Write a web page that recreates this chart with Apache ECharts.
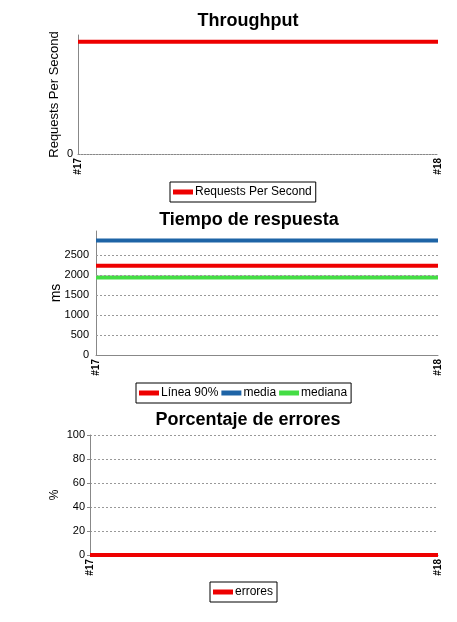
<!DOCTYPE html>
<html>
<head>
<meta charset="utf-8">
<script src="https://cdn.jsdelivr.net/npm/echarts@6/dist/echarts.min.js"></script>
<style>
html,body{margin:0;padding:0;background:#fff;}
#c{width:457px;height:622px;}
</style>
</head>
<body>
<div id="c"></div>
<script>
// ---- data ----
const categories = ['#17', '#18'];
const throughputValues = [1, 1];
const throughputMax = 1.06;
const p90Values = [2230, 2230];
const meanValues = [2860, 2860];
const medianValues = [1940, 1940];
const responseMax = 3100;
const responseTicks = [0, 500, 1000, 1500, 2000, 2500];
const errorValues = [0, 0];
const errorTicks = [0, 20, 40, 60, 80, 100];

const titles = ['Throughput', 'Tiempo de respuesta', 'Porcentaje de errores'];
const yNames = ['Requests Per Second', 'ms', '%'];

const RED = '#ee0000', BLUE = '#1e64a6', GREEN = '#44dd44';
const FONT = 'Liberation Sans, Arial, sans-serif';
const GRIDLINE = { color: '#999', type: [2, 2], width: 1 };

function xAxis(gi) {
  return {
    type: 'category', gridIndex: gi, data: categories, boundaryGap: false,
    axisLine: { show: true, lineStyle: { color: '#888', width: 1, type: gi === 0 ? [2, 1] : 'solid' } },
    axisTick: { show: false },
    axisLabel: { rotate: 90, fontSize: 10, fontFamily: FONT, color: '#000', margin: 4, fontWeight: 'bold' }
  };
}
function baseY(gi, name, gap, nameSize) {
  return {
    type: 'value', gridIndex: gi, name: name, nameLocation: 'middle', nameGap: gap,
    nameMoveOverlap: false,
    nameTextStyle: { fontSize: nameSize, fontFamily: FONT, color: '#000' },
    axisLine: { show: true, lineStyle: { color: '#888', width: 1 } },
    axisTick: { show: true, length: 3, lineStyle: { color: '#888' } },
    axisLabel: { fontSize: 11, fontFamily: FONT, color: '#000', margin: 5, formatter: v => String(v) },
    splitLine: { show: true, showMaxLine: false, lineStyle: GRIDLINE }
  };
}

const y0 = baseY(0, yNames[0], 17, 13);
y0.min = 0; y0.max = throughputMax;
y0.axisLabel.formatter = v => (v === 0 ? '0' : '');
y0.axisTick.show = false;
y0.splitLine.show = false;

const y1 = baseY(1, yNames[1], 33, 14);
y1.min = 0; y1.max = responseMax; y1.interval = responseTicks[1] - responseTicks[0];
y1.axisLabel.formatter = v => (responseTicks.indexOf(v) >= 0 ? String(v) : '');
y1.axisLabel.margin = 7;
y1.axisTick.show = false;
y1.splitLine.show = false;

const y2 = baseY(2, yNames[2], 29, 12);
y2.min = errorTicks[0]; y2.max = errorTicks[errorTicks.length - 1]; y2.interval = errorTicks[1] - errorTicks[0];
y2.splitLine.showMaxLine = true;
y2.splitLine.showMinLine = false;

function line(name, data, color, gi) {
  return {
    type: 'line', name: name, data: data, xAxisIndex: gi, yAxisIndex: gi,
    showSymbol: false, symbol: 'none', clip: false, animation: false,
    lineStyle: { color: color, width: 4 }, itemStyle: { color: color }
  };
}

function legend(names, left, top) {
  return {
    data: names, left: left, top: top, orient: 'horizontal',
    borderColor: '#000', borderWidth: 1, borderRadius: 0, padding: [4, 4, 4, 3],
    icon: 'rect', itemWidth: 20, itemHeight: 5, itemGap: 3,
    textStyle: { fontSize: 12, fontFamily: FONT, color: '#000', padding: [0, 0, 0, -3] }
  };
}

const p90Series = line('Línea 90%', p90Values, RED, 1);
p90Series.markLine = {
  silent: true, symbol: ['none', 'none'], animation: false,
  label: { show: false },
  lineStyle: GRIDLINE,
  emphasis: { disabled: true },
  data: responseTicks.filter(v => v > 0).map(v => ({ yAxis: v }))
};

const option = {
  animation: false,
  backgroundColor: '#fff',
  title: [
    { text: titles[0], left: 243, top: 7, textAlign: 'center' },
    { text: titles[1], left: 244, top: 206, textAlign: 'center' },
    { text: titles[2], left: 243, top: 406, textAlign: 'center' }
  ].map(t => Object.assign(t, { textStyle: { fontSize: 18, fontWeight: 'bold', fontFamily: FONT, color: '#000' } })),
  grid: [
    { left: 78, right: 19, top: 35, height: 119 },
    { left: 96, right: 19, top: 231, height: 124 },
    { left: 90, right: 19, top: 435, height: 120 }
  ],
  xAxis: [xAxis(0), xAxis(1), xAxis(2)],
  yAxis: [y0, y1, y2],
  legend: [
    legend(['Requests Per Second'], 170, 182),
    legend(['Línea 90%', 'media', 'mediana'], 136, 383),
    legend(['errores'], 210, 582)
  ],
  series: [
    line('Requests Per Second', throughputValues, RED, 0),
    p90Series,
    line('media', meanValues, BLUE, 1),
    line('mediana', medianValues, GREEN, 1),
    line('errores', errorValues, RED, 2)
  ]
};

const chart = echarts.init(document.getElementById('c'), null, { renderer: 'canvas' });
chart.setOption(option);
</script>
</body>
</html>
